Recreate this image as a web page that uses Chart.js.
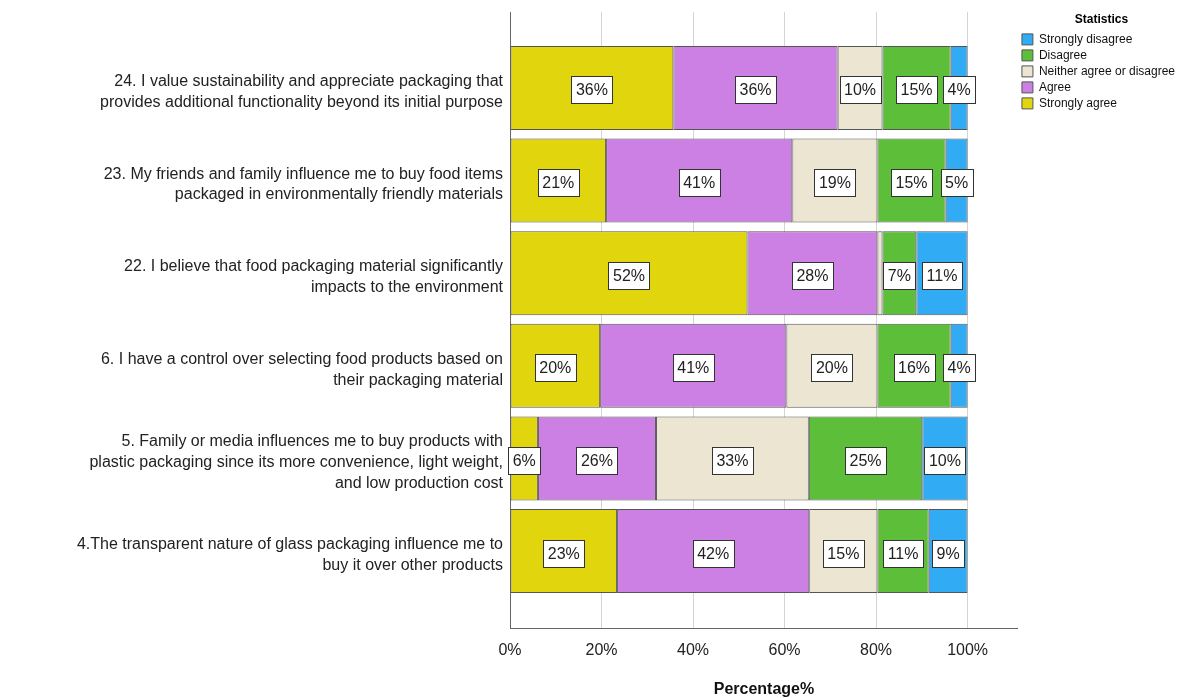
<!DOCTYPE html>
<html>
<head>
<meta charset="utf-8">
<script src="https://cdn.jsdelivr.net/npm/chart.js@4/dist/chart.umd.min.js"></script>
<style>
    body { margin: 0; background: #fff; }
    canvas { display: block; }
</style>
</head>
<body>
<canvas id="chart" width="1193" height="698"></canvas>
<script>
const QUESTIONS = [
    ['24. I value sustainability and appreciate packaging that', 'provides additional functionality beyond its initial purpose'],
    ['23. My friends and family influence me to buy food items', 'packaged in environmentally friendly materials'],
    ['22. I believe that food packaging material significantly', 'impacts to the environment'],
    ['6. I have a control over selecting food products based on', 'their packaging material'],
    ['5. Family or media influences me to buy products with', 'plastic packaging since its more convenience, light weight,', 'and low production cost'],
    ['4.The transparent nature of glass packaging influence me to', 'buy it over other products']
];

const STRONGLY_AGREE = [35.7, 21.0, 51.9, 19.7, 6.1, 23.4];
const AGREE = [35.9, 40.7, 28.4, 40.7, 25.8, 42.0];
const NEITHER = [9.8, 18.6, 1.1, 19.9, 33.4, 14.9];
const DISAGREE = [14.9, 14.9, 7.4, 16.0, 24.8, 11.2];
const STRONGLY_DISAGREE = [3.7, 4.8, 11.2, 3.7, 9.9, 8.5];

const X_TICKS = [0, 20, 40, 60, 80, 100];

const FONT = "'Liberation Sans', Arial, sans-serif";

const series = [
    { label: 'Strongly agree', values: STRONGLY_AGREE, color: '#e1d60d' },
    { label: 'Agree', values: AGREE, color: '#cc80e3' },
    { label: 'Neither agree or disagree', values: NEITHER, color: '#ebe5d2' },
    { label: 'Disagree', values: DISAGREE, color: '#5dbf39' },
    { label: 'Strongly disagree', values: STRONGLY_DISAGREE, color: '#31abf4' }
];

// white boxed percentage in the middle of each segment
const boxLabels = {
    id: 'boxLabels',
    afterDatasetsDraw(chart) {
        const ctx = chart.ctx;
        ctx.save();
        ctx.font = `16px ${FONT}`;
        ctx.textAlign = 'center';
        ctx.textBaseline = 'middle';
        chart.data.datasets.forEach((ds, di) => {
            const meta = chart.getDatasetMeta(di);
            meta.data.forEach((bar, i) => {
                const v = ds.data[i].x;
                if (v < 2) return;
                const text = Math.round(v) + '%';
                const w = ctx.measureText(text).width + 9;
                const h = 27;
                const cx = (bar.x + bar.base) / 2;
                const cy = bar.y + 2;
                ctx.fillStyle = '#fff';
                ctx.fillRect(Math.round(cx - w / 2) + 0.5, Math.round(cy - h / 2) + 0.5, Math.round(w), h);
                ctx.strokeStyle = '#333';
                ctx.lineWidth = 1;
                ctx.strokeRect(Math.round(cx - w / 2) + 0.5, Math.round(cy - h / 2) + 0.5, Math.round(w), h);
                ctx.fillStyle = '#222';
                ctx.fillText(text, cx, cy + 1);
            });
        });
        ctx.restore();
    }
};

new Chart(document.getElementById('chart'), {
    type: 'bar',
    data: {
        datasets: series.map((s) => ({
            label: s.label,
            data: s.values.map((v, i) => ({ x: v, y: i })),
            backgroundColor: s.color,
            borderColor: '#555',
            borderWidth: 1,
            borderSkipped: false,
            categoryPercentage: 1,
            barPercentage: 0.907
        }))
    },
    options: {
        indexAxis: 'y',
        responsive: false,
        animation: false,
        layout: { padding: { top: 12, right: 8, bottom: 0, left: 0 } },
        plugins: {
            tooltip: { enabled: false },
            legend: {
                position: 'right',
                align: 'start',
                reverse: true,
                title: {
                    display: true,
                    text: 'Statistics',
                    color: '#000',
                    font: { family: FONT, size: 12, weight: 'bold' },
                    padding: { top: 2, bottom: 1 }
                },
                labels: {
                    boxWidth: 11,
                    boxHeight: 11,
                    padding: 4,
                    color: '#111',
                    font: { family: FONT, size: 12 }
                }
            }
        },
        scales: {
            x: {
                type: 'linear',
                stacked: true,
                min: 0,
                max: 111,
                afterBuildTicks: (scale) => { scale.ticks = X_TICKS.map((v) => ({ value: v })); },
                afterFit: (scale) => { scale.height = 70; },
                grid: { color: '#d4d4d4', drawTicks: false },
                border: { display: true, color: '#666', width: 1 },
                ticks: {
                    padding: 13,
                    color: '#222',
                    font: { family: FONT, size: 16 },
                    callback: (v) => v + '%'
                },
                title: {
                    display: true,
                    text: 'Percentage%',
                    color: '#111',
                    font: { family: FONT, size: 16, weight: 'bold' },
                    padding: { top: 0, bottom: -1 }
                }
            },
            y: {
                type: 'linear',
                stacked: true,
                reverse: true,
                offset: false,
                min: -0.82,
                max: 5.83,
                afterBuildTicks: (scale) => { scale.ticks = QUESTIONS.map((_, i) => ({ value: i })); },
                afterFit: (scale) => {
                    scale.width = 510;
                    scale.paddingTop = 0;
                    scale.paddingBottom = 0;
                },
                grid: { color: 'transparent', drawTicks: false },
                border: { display: true, color: '#666', width: 1 },
                ticks: {
                    padding: 7,
                    labelOffset: 4,
                    color: '#222',
                    font: { family: FONT, size: 16, lineHeight: 1.3 },
                    callback: (v) => QUESTIONS[v] || ''
                }
            }
        }
    },
    plugins: [boxLabels]
});
</script>
</body>
</html>
